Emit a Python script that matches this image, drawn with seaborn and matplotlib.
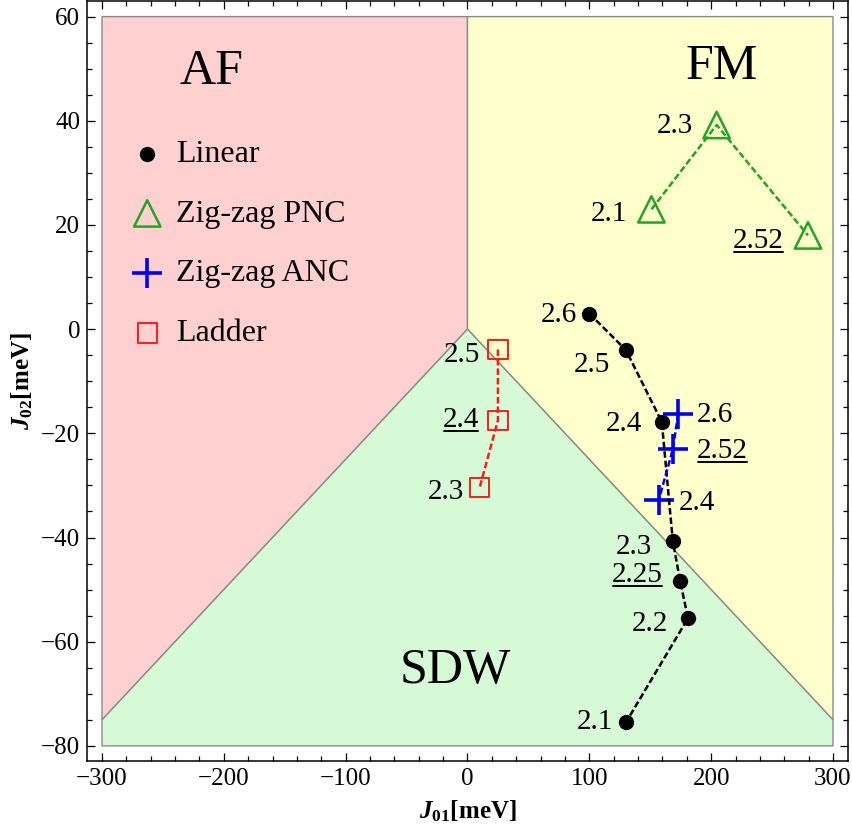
import matplotlib
matplotlib.use("Agg")
import matplotlib.pyplot as plt
from matplotlib.lines import Line2D
from matplotlib.transforms import IdentityTransform
from matplotlib.ticker import MultipleLocator
import seaborn as sns

# ---- phase regions in the (J01, J02) plane ----
af_x = [-300, 0, 0, -300]
af_y = [60, 60, 0, -75]
fm_x = [0, 300, 300, 0]
fm_y = [60, 60, -75, 0]
sdw_x = [0, 300, 300, -300, -300]
sdw_y = [0, -75, -80, -80, -75]

region_names = ["AF", "FM", "SDW"]
region_x = [-210, 209, -10]
region_y = [47, 48, -68]

# ---- exchange couplings, labelled by lattice ratio ----
lin_ratio = ["2.6", "2.5", "2.4", "2.3", "2.25", "2.2", "2.1"]
lin_j01 = [100, 130, 159.5, 168.5, 174.5, 181, 130]
lin_j02 = [3, -4, -17.8, -40.6, -48.3, -55.5, -75.5]

pnc_ratio = ["2.1", "2.3", "2.52"]
pnc_j01 = [151, 204.5, 279.5]
pnc_j02 = [23, 39.2, 18]

anc_ratio = ["2.6", "2.52", "2.4"]
anc_j01 = [173, 168.5, 157]
anc_j02 = [-16.2, -23.1, -32.8]

lad_ratio = ["2.5", "2.4", "2.3"]
lad_j01 = [25, 25, 10]
lad_j02 = [-3.9, -17.5, -30.4]

# ratios printed underlined
underlined = {"linear": {"2.25"}, "pnc": {"2.52"}, "anc": {"2.52"}, "ladder": {"2.4"}}

series_names = ["Linear", "Zig-zag PNC", "Zig-zag ANC", "Ladder"]

sns.set_style("ticks")
plt.rcParams["font.family"] = ["Liberation Serif", "DejaVu Serif"]
plt.rcParams["mathtext.fontset"] = "custom"
plt.rcParams["mathtext.rm"] = "Liberation Serif"
plt.rcParams["mathtext.it"] = "Liberation Serif:italic"
plt.rcParams["mathtext.bf"] = "Liberation Serif:bold"
plt.rcParams["mathtext.bfit"] = "Liberation Serif:italic:bold"
for key in ["text.color", "axes.labelcolor", "xtick.color", "ytick.color",
            "xtick.labelcolor", "ytick.labelcolor"]:
    plt.rcParams[key] = "black"

fig = plt.figure(figsize=(8.53, 8.27), dpi=100)
ax = fig.add_axes([0.1020, 0.0798, 0.8921, 0.9184])

edge = "#8a8a8a"
ax.fill(af_x, af_y, facecolor="#ffd0d0", edgecolor=edge, lw=1.0, zorder=0)
ax.fill(fm_x, fm_y, facecolor="#ffffcc", edgecolor=edge, lw=1.0, zorder=0)
ax.fill(sdw_x, sdw_y, facecolor="#d6fad6", edgecolor=edge, lw=1.0, zorder=0)

for name, rx, ry in zip(region_names, region_x, region_y):
    ax.text(rx, ry, name, fontsize=36, ha="center", va="baseline", zorder=3)

green = "#25a325"
blue = "#0000ff"
red = "#ff1a1a"
dash = (0, (2.6, 1.2))

# markers
sns.scatterplot(x=lin_j01, y=lin_j02, ax=ax, marker="o", s=11 ** 2,
                color="black", edgecolor="black", linewidth=0,
                label=series_names[0], zorder=4)
sns.scatterplot(x=pnc_j01, y=pnc_j02, ax=ax, marker="^", s=19 ** 2,
                color=green, facecolor="none", edgecolor=green, linewidth=1.8,
                label=series_names[1], zorder=4)
sns.scatterplot(x=anc_j01, y=anc_j02, ax=ax, marker="+", s=21 ** 2,
                color=blue, linewidth=2.6,
                label=series_names[2], zorder=4)
sns.scatterplot(x=lad_j01, y=lad_j02, ax=ax, marker="s", s=14 ** 2,
                color=red, facecolor="none", edgecolor=red, linewidth=1.4,
                label=series_names[3], zorder=4)

# dashed connecting lines, drawn in the listed order
for xs, ys, c in [(lin_j01, lin_j02, "black"), (pnc_j01, pnc_j02, green),
                  (anc_j01, anc_j02, blue), (lad_j01, lad_j02, red)]:
    sns.lineplot(x=xs, y=ys, ax=ax, sort=False, estimator=None, color=c,
                 lw=1.8, linestyle=dash, legend=False, zorder=5)

ax.set_xlim(-312.3, 312.3)
ax.set_ylim(-82.9, 62.9)

to_underline = []


def put_labels(xs, ys, ratios, key, offsets, ha):
    for x, y, r, (dx, dy) in zip(xs, ys, ratios, offsets):
        t = ax.annotate(r, (x, y), xytext=(dx, -dy),
                        textcoords="offset pixels", ha=ha, va="baseline",
                        fontsize=21, zorder=6)
        if r in underlined[key]:
            to_underline.append((t, x, y, dy))


put_labels(lin_j01, lin_j02, lin_ratio, "linear",
           [(-12, 8), (-16, 22), (-20, 9), (-21, 13), (-17, 1), (-20, 13), (-13, 7)], "right")
put_labels(pnc_j01, pnc_j02, pnc_ratio, "pnc",
           [(-24, 12), (-24, 8), (-24, 13)], "right")
put_labels(anc_j01, anc_j02, anc_ratio, "anc",
           [(18, 8), (24, 9), (20, 10)], "left")
put_labels(lad_j01, lad_j02, lad_ratio, "ladder",
           [(-18, 13), (-19, 7), (-16, 11)], "right")

ax.xaxis.set_major_locator(MultipleLocator(100))
ax.xaxis.set_minor_locator(MultipleLocator(20))
ax.yaxis.set_major_locator(MultipleLocator(20))
ax.yaxis.set_minor_locator(MultipleLocator(5))
ax.tick_params(which="both", direction="in", top=True, right=True,
               labelsize=18, color="black", width=0.9)
ax.tick_params(which="major", length=6, pad=5)
ax.tick_params(which="minor", length=3.5)
for sp in ax.spines.values():
    sp.set_linewidth(1.1)
    sp.set_color("black")

ax.set_xlabel(r"$\mathbfit{J}_{\mathbf{01}}$[meV]", fontsize=18,
              fontweight="bold", labelpad=6)
ax.set_ylabel(r"$\mathbfit{J}_{\mathbf{02}}$[meV]", fontsize=18,
              fontweight="bold", labelpad=4)

ax.legend(loc="upper left", bbox_to_anchor=(0.054, 0.818), frameon=False,
          fontsize=23, handlelength=1.2, handletextpad=0.3,
          labelspacing=0.95, borderpad=0, borderaxespad=0, scatterpoints=1)

# underline the marked ratios once the text extents are known
fig.canvas.draw()
renderer = fig.canvas.get_renderer()
for t, x, y, dy in to_underline:
    bb = t.get_window_extent(renderer)
    base = ax.transData.transform((x, y))[1] - dy
    yl = base - 4
    fig.add_artist(Line2D([bb.x0 + 1, bb.x1 - 1], [yl, yl], color="black",
                          lw=1.4, transform=IdentityTransform()))

fig.savefig("out.png", dpi=100)
